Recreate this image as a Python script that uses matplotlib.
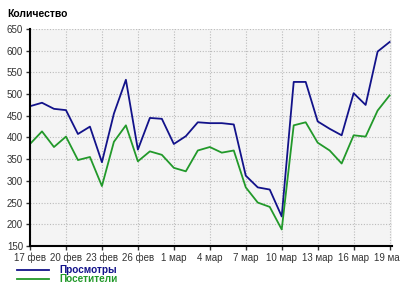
import matplotlib
matplotlib.use("Agg")
import matplotlib.pyplot as plt
import numpy as np

days = ["17 фев", "18 фев", "19 фев", "20 фев", "21 фев", "22 фев", "23 фев", "24 фев",
        "25 фев", "26 фев", "27 фев", "28 фев", "1 мар", "2 мар", "3 мар", "4 мар",
        "5 мар", "6 мар", "7 мар", "8 мар", "9 мар", "10 мар", "11 мар", "12 мар",
        "13 мар", "14 мар", "15 мар", "16 мар", "17 мар", "18 мар", "19 мар"]
views = [472, 480, 466, 463, 408, 425, 343, 455, 533, 372, 445, 443, 385, 403, 435, 433,
         433, 430, 312, 285, 280, 218, 528, 528, 437, 420, 405, 502, 475, 598, 620]
visitors = [385, 414, 378, 402, 348, 355, 288, 390, 428, 345, 368, 360, 330, 322, 370, 378,
            365, 370, 285, 250, 240, 188, 428, 435, 388, 370, 340, 405, 402, 462, 497]

plt.rcParams['font.family'] = ['Liberation Sans', 'DejaVu Sans']
fig = plt.figure(figsize=(4, 2.87), dpi=100)
ax = fig.add_axes([0.075, 0.143, 0.905, 0.756])
ax.set_facecolor("#f4f4f4")

x = np.arange(len(days))
l1, = ax.plot(x, views, color="#12128a", lw=1.3, label="Просмотры")
l2, = ax.plot(x, visitors, color="#22992a", lw=1.3, label="Посетители")

ax.set_xlim(0, 30.2)
ax.set_ylim(150, 650)
ax.set_yticks(range(150, 651, 50))
ax.set_xticks(x[::3])
ax.set_xticklabels(days[::3])
ax.tick_params(labelsize=7, length=3, width=1, pad=2, colors="#333333")
ax.grid(True, color="#bbbbbb", linestyle=(0, (1, 1.5)), lw=0.8)
for s in ["top", "right"]:
    ax.spines[s].set_visible(False)
for s in ["left", "bottom"]:
    ax.spines[s].set_linewidth(1.5)

fig.text(0.018, 0.94, "Количество", fontsize=7.5, fontweight="bold")
leg = fig.legend(handles=[l1, l2], loc="lower left", bbox_to_anchor=(0.025, -0.015),
                 frameon=False, prop={"weight": "bold", "size": 7.2},
                 labelcolor="linecolor", handlelength=3.2, handletextpad=1.0,
                 labelspacing=-0.1, borderpad=0.2)
fig.savefig("out.png", dpi=100)
